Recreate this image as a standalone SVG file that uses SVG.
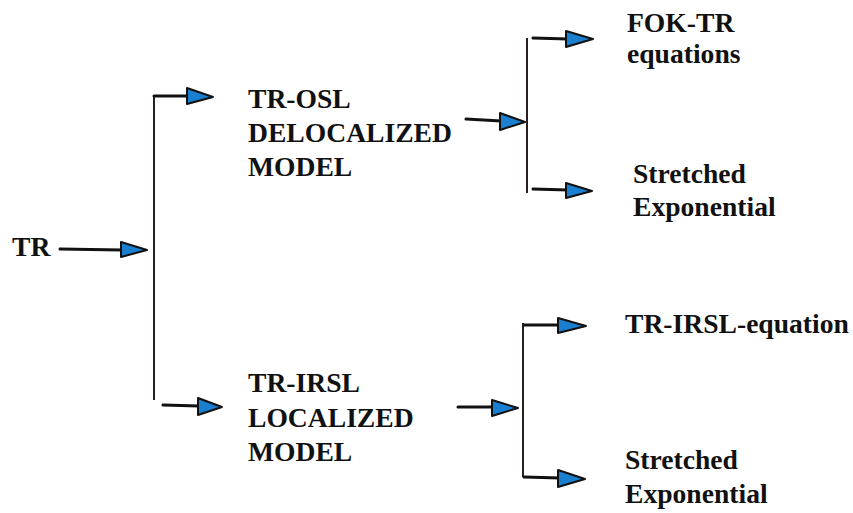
<svg xmlns="http://www.w3.org/2000/svg" width="853" height="513" viewBox="0 0 853 513">
<style>
.t{font-family:"Liberation Serif","Times New Roman","DejaVu Serif",serif;font-weight:bold;font-size:27.6px;fill:#111}
.ln{stroke:#111;stroke-width:3;fill:none;stroke-linecap:round}
.br{stroke:#2a1f1f;stroke-width:2;fill:none}
.hd{fill:#1b7fcf;stroke:#111;stroke-width:2;stroke-linejoin:round}
</style>
<rect width="853" height="513" fill="#fff"/>
<g id="connectors">
<line class="ln" x1="60" y1="249" x2="122" y2="250"/>
<polygon class="hd" points="121,242 147,250 121,257"/>
<line class="br" x1="154" y1="95" x2="154" y2="400"/>
<line class="ln" x1="154" y1="96" x2="188" y2="96"/>
<polygon class="hd" points="187,88 213,97 187,104"/>
<line class="ln" x1="163" y1="405" x2="199" y2="406"/>
<polygon class="hd" points="198,398 222,407 198,415"/>
<line class="br" x1="527" y1="38" x2="527" y2="193"/>
<line class="ln" x1="533" y1="38" x2="568" y2="39"/>
<polygon class="hd" points="566,31 593,39 566,47"/>
<line class="ln" x1="466" y1="119" x2="501" y2="121"/>
<polygon class="hd" points="500,113 525,122 500,130"/>
<line class="ln" x1="533" y1="189" x2="568" y2="190"/>
<polygon class="hd" points="566,183 592,191 566,198"/>
<line class="br" x1="523" y1="323" x2="523" y2="477"/>
<line class="ln" x1="524" y1="325" x2="560" y2="325"/>
<polygon class="hd" points="558,318 586,326 558,333"/>
<line class="ln" x1="458" y1="407" x2="493" y2="407"/>
<polygon class="hd" points="492,400 518,408 492,416"/>
<line class="ln" x1="524" y1="477" x2="560" y2="478"/>
<polygon class="hd" points="558,470 585,479 558,487"/>
</g>
<g id="tr"><text class="t" x="12" y="256">TR</text></g>
<g id="tr-osl"><text class="t" x="248" y="108">TR-OSL</text><text class="t" x="248" y="142">DELOCALIZED</text><text class="t" x="248" y="176">MODEL</text></g>
<g id="tr-irsl"><text class="t" x="248" y="392">TR-IRSL</text><text class="t" x="248" y="427">LOCALIZED</text><text class="t" x="248" y="461">MODEL</text></g>
<g id="fok"><text class="t" x="627" y="32">FOK-TR</text><text class="t" x="627" y="63">equations</text></g>
<g id="stretched1"><text class="t" x="633" y="183">Stretched</text><text class="t" x="633" y="216">Exponential</text></g>
<g id="irsl-eq"><text class="t" x="625" y="333">TR-IRSL-equation</text></g>
<g id="stretched2"><text class="t" x="625" y="469">Stretched</text><text class="t" x="625" y="503">Exponential</text></g>
</svg>
